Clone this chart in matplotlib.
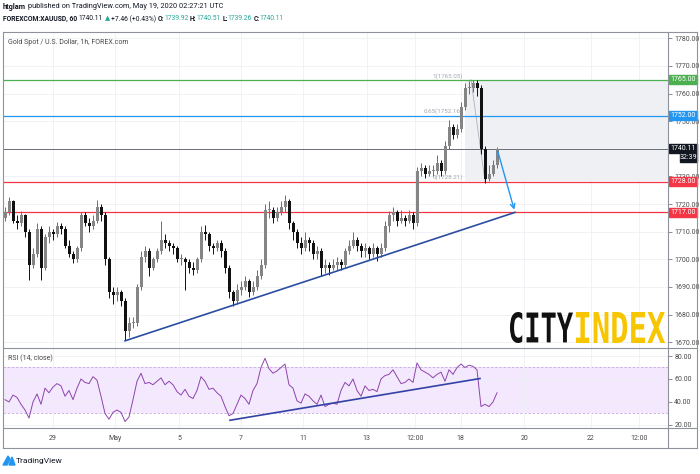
#IMPORT MODULES
import numpy
import matplotlib
matplotlib.use("Agg")
import matplotlib.pyplot as plt
from matplotlib import font_manager
from matplotlib.font_manager import FontProperties
from matplotlib.textpath import TextPath
from matplotlib.patches import PathPatch, Polygon, Rectangle
from matplotlib.transforms import Affine2D, IdentityTransform, blended_transform_factory
from matplotlib.lines import Line2D


#VARIABLES
    #hourly gold candles (one candle here ~ 3 hours there)
closes = [1717, 1721, 1714, 1713, 1716, 1710, 1698, 1702, 1711, 1697,
          1708, 1710, 1709, 1712, 1711, 1705, 1702, 1700, 1704, 1716,
          1713, 1712, 1714, 1719, 1716, 1700, 1688, 1687, 1688, 1685,
          1674, 1677, 1677, 1690, 1701, 1703, 1697, 1700, 1703, 1707,
          1706, 1705, 1704, 1700, 1700, 1699, 1697, 1696, 1700, 1710,
          1709, 1705, 1704, 1706, 1703, 1697, 1688, 1685, 1689, 1690,
          1692, 1688, 1690, 1694, 1698, 1718, 1718, 1715, 1717, 1719,
          1721, 1713, 1710, 1706, 1704, 1707, 1706, 1702, 1703, 1697,
          1698, 1697, 1698, 1699, 1698, 1703, 1705, 1707, 1705, 1703,
          1704, 1702, 1704, 1702, 1704, 1712, 1716, 1717, 1714, 1715,
          1714, 1716, 1713, 1732, 1733, 1731, 1732, 1732, 1735, 1732,
          1741, 1748, 1745, 1747, 1755, 1762, 1762, 1764, 1762, 1740,
          1729, 1731, 1734, 1740.11]
highs = [1719, 1722.5, 1721.5, 1716, 1717.5, 1716.5, 1711, 1704, 1713, 1712,
         1709, 1712, 1711, 1713.5, 1713, 1712, 1707, 1703, 1705, 1717,
         1717, 1715, 1716, 1721.5, 1720, 1717, 1701, 1690, 1690, 1689,
         1686, 1679, 1679, 1691, 1703, 1705, 1704, 1701, 1704, 1714,
         1709, 1707, 1706, 1705, 1702, 1701, 1700, 1699, 1701, 1712,
         1712.4, 1710, 1706, 1707, 1707, 1704, 1698, 1689, 1691, 1692,
         1694, 1693, 1692, 1696, 1700, 1720, 1721, 1719, 1719, 1721,
         1723.3, 1722, 1714, 1711, 1708, 1710, 1708, 1707, 1705, 1704,
         1700, 1699, 1700, 1701, 1700, 1704, 1707, 1710, 1708, 1706,
         1706, 1705, 1706, 1705, 1706, 1714, 1717.5, 1719, 1718, 1718,
         1716, 1718, 1717, 1733.5, 1735, 1734, 1734, 1734, 1737.8, 1736,
         1743, 1750.4, 1749, 1749, 1757, 1764, 1764.5, 1765.05, 1765, 1763,
         1741, 1734, 1736, 1740.6]
lows = [1714, 1716, 1713, 1711, 1712, 1708, 1692.5, 1697, 1701, 1692.5,
        1696, 1706, 1707, 1708, 1709, 1704, 1701, 1698.5, 1699, 1703,
        1712, 1710, 1711, 1713, 1714, 1698, 1686, 1684, 1685, 1683,
        1670.8, 1672, 1675, 1676, 1689, 1699, 1694, 1696, 1699, 1702,
        1704, 1703, 1702, 1699, 1698, 1689, 1695, 1694.5, 1695, 1699,
        1707, 1703, 1702, 1703, 1701, 1695, 1686, 1683, 1684, 1687,
        1689, 1686.5, 1687, 1689, 1693, 1697, 1715, 1713, 1714, 1716,
        1717, 1711, 1707, 1704, 1702, 1703, 1703, 1700, 1700, 1694,
        1695, 1694.5, 1696, 1696, 1696, 1697, 1702, 1704, 1703, 1701,
        1701, 1700, 1701, 1699.5, 1701, 1703, 1710, 1714, 1712, 1713,
        1712, 1713, 1711, 1712, 1730, 1729.5, 1730, 1730, 1731, 1730,
        1731, 1740, 1743.5, 1744, 1746, 1754, 1760, 1760.5, 1759, 1738,
        1727.7, 1728.5, 1730, 1733]
first_open = 1715

rsi = [42, 40, 46, 44, 38, 33, 26, 40, 47, 38,
       52, 48, 53, 56, 54, 45, 50, 42, 52, 60,
       57, 56, 62, 59, 45, 30, 25, 31, 33, 31,
       23, 27, 42, 58, 65, 56, 57, 55, 58, 61,
       55, 58, 55, 49, 46, 51, 45, 43, 50, 62,
       58, 51, 52, 48, 45, 36, 28, 30, 38, 46,
       43, 38, 50, 56, 70, 78, 69, 65, 67, 70,
       73, 55, 52, 41, 39, 47, 45, 41, 38, 46,
       36, 38, 39, 38, 50, 57, 54, 60, 50, 45,
       54, 50, 51, 49, 60, 63, 64, 68, 62, 56,
       57, 60, 57, 74, 68, 66, 64, 61, 64, 66,
       58, 68, 64, 70, 73, 70, 72, 71, 68, 36,
       38, 36, 40, 48]

    #time axis
tick_pos = [11.9, 27.5, 43.5, 58.9, 74.6, 90.4, 102.5, 113.9, 129.8, 146.4, 158.6]
tick_labels = ["29", "May", "5", "7", "11", "13", "12:00", "18", "20", "22", "12:00"]

    #price axis (1740.00 sits under the last price badge, so it is not shown)
price_ticks = [1670, 1680, 1690, 1700, 1710, 1720, 1730, 1750, 1760, 1770, 1780]

    #levels drawn on the chart
levels = [1765, 1752, 1728, 1717]
level_labels = ["1765.00", "1752.00", "1728.00", "1717.00"]
level_colors = ["#4caf50", "#2196f3", "#f23645", "#f23645"]
last_price = 1740.11
countdown = "32:39"

fib_high = 1765.05
fib_low = 1728.21
fib_labels = ["1(1765.05)", "0.65(1752.16)", "0(1728.21)"]
fib_values = [1765.05, 1752.16, 1728.21]

trend_x = [30, 127.5]
trend_y = [1670.5, 1717]
arrow_start = (123, 1740.11)
arrow_end = (127.5, 1717)
rsi_trend_x = [56.25, 118.75]
rsi_trend_y = [24.1, 60.4]

header1 = "published on TradingView.com, May 19, 2020 02:27:21 UTC"
header2 = [("FOREXCOM:XAUUSD, 60", "#131722", True), ("1740.11", "#131722", False),
           ("\u25b2", "#26a69a", False), ("+7.46 (+0.43%)", "#131722", False),
           ("O:", "#131722", True), ("1739.92", "#26a69a", False),
           ("H:", "#131722", True), ("1740.51", "#26a69a", False),
           ("L:", "#131722", True), ("1739.26", "#26a69a", False),
           ("C:", "#131722", True), ("1740.11", "#26a69a", False)]


#FONT (narrow like the TradingView one if it is there)
names = set(f.name for f in font_manager.fontManager.ttflist)
narrow = "Liberation Sans Narrow" if "Liberation Sans Narrow" in names else "Roboto"
plt.rcParams["font.family"] = [narrow, "DejaVu Sans"]

W, H = 700, 474
def fx(px):
    return px / W
def fy(py):
    return 1 - py / H

fig = plt.figure(figsize=(7, 4.74), dpi=100)
fig.patch.set_facecolor("white")

top, mid, low, bot = 31.7, 348.3, 428.3, 448.3
left, right, edge = 3, 668, 697

ax = fig.add_axes([fx(left), fy(mid), (right - left) / W, (mid - top) / H])
ax2 = fig.add_axes([fx(left), fy(low), (right - left) / W, (low - mid) / H])
xmin, xmax = -0.5, -0.5 + (right - left) / 4.0


#CANDLES
x = numpy.arange(len(closes))
c = numpy.array(closes, dtype=float)
o = numpy.concatenate([[first_open], c[:-1]])
hi = numpy.array(highs)
lo = numpy.array(lows)
up = c >= o
body_lo = numpy.minimum(o, c)
body_h = numpy.maximum(numpy.abs(c - o), 0.4)

ax.vlines(x[up], lo[up], hi[up], color="#6e6e6e", lw=0.7, zorder=3)
ax.vlines(x[~up], lo[~up], hi[~up], color="#111111", lw=0.7, zorder=3)
ax.bar(x[up], body_h[up], bottom=body_lo[up], width=0.75, color="#858585", zorder=4)
ax.bar(x[~up], body_h[~up], bottom=body_lo[~up], width=0.75, color="#111111", zorder=4)

    #fib box and its labels
ax.fill_between([115, xmax], fib_low, fib_high, color="#eef0f4", zorder=1, lw=0)
for lab, val in zip(fib_labels, fib_values):
    ax.text(114.5, val + 0.4, lab, ha="right", va="bottom", fontsize=4.5, color="#a3a6af", zorder=2)
ax.plot([116.5, 120], [fib_high, fib_low], color="#a3a6af", lw=0.5, zorder=2)

    #horizontal levels
for lv, col in zip(levels, level_colors):
    ax.axhline(lv, color=col, lw=0.9, zorder=2)
ax.axhline(last_price, color="#6a6d78", lw=0.7, zorder=2)

    #trend line and arrow
ax.plot(trend_x, trend_y, color="#2b4ea2", lw=1.2, zorder=5)
ax.annotate("", xy=arrow_end, xytext=arrow_start,
            arrowprops=dict(arrowstyle="->", color="#2196f3", lw=1.0, mutation_scale=8), zorder=5)

ax.set_xlim(xmin, xmax)
ax.set_ylim(1667.8, 1782.4)
ax.set_xticks(tick_pos)
ax.set_xticklabels([])
ax.set_yticks(price_ticks)
ax.set_yticklabels(["%.2f" % v for v in price_ticks])
ax.yaxis.tick_right()
ax.tick_params(axis="x", length=0)
ax.tick_params(axis="y", length=3, width=0.6, color="#787b86", labelsize=5, labelcolor="#4a4a4a", pad=1.5)
ax.grid(True, color="#eef0f4", lw=0.6, zorder=0)
for s in ax.spines.values():
    s.set_visible(False)

    #price badges on the right axis
bt = blended_transform_factory(fig.transFigure, ax.transData)
bh = 9 / ((mid - top) / (1782.4 - 1667.8))
for lv, lab, col in zip(levels, level_labels, level_colors):
    ax.add_patch(Rectangle((fx(669), lv - bh / 2), 28 / W, bh, transform=bt, color=col, clip_on=False, zorder=6))
    ax.text(fx(683), lv, lab, transform=bt, ha="center", va="center", fontsize=5, color="white", zorder=7, clip_on=False)
ax.add_patch(Rectangle((fx(669), last_price - bh / 2), 28 / W, bh, transform=bt, color="#131722", clip_on=False, zorder=6))
ax.text(fx(683), last_price, "%.2f" % last_price, transform=bt, ha="center", va="center", fontsize=5, color="white", zorder=7, clip_on=False)
ax.add_patch(Rectangle((fx(680), 1737.0 - bh / 2), 17 / W, bh, transform=bt, color="#131722", clip_on=False, zorder=6))
ax.text(fx(688.5), 1737.0, countdown, transform=bt, ha="center", va="center", fontsize=5, color="white", zorder=7, clip_on=False)


#RSI
ax2.axhspan(30, 70, color="#f3e8fd", zorder=0, lw=0)
ax2.axhline(70, color="#c7a8e0", lw=0.6, ls=(0, (3, 2)), zorder=1)
ax2.axhline(30, color="#c7a8e0", lw=0.6, ls=(0, (3, 2)), zorder=1)
ax2.plot(x, rsi, color="#8e44ad", lw=0.7, zorder=3)
ax2.plot(rsi_trend_x, rsi_trend_y, color="#3343a5", lw=1.2, zorder=4)
ax2.set_xlim(xmin, xmax)
ax2.set_ylim(17.1, 86.7)
ax2.set_yticks([20, 40, 60, 80])
ax2.set_yticklabels(["20.00", "40.00", "60.00", "80.00"])
ax2.yaxis.tick_right()
ax2.set_xticks(tick_pos)
ax2.set_xticklabels(tick_labels)
ax2.tick_params(axis="x", length=0, labelsize=5, labelcolor="#4a4a4a", pad=4.5)
ax2.tick_params(axis="y", length=3, width=0.6, color="#787b86", labelsize=5, labelcolor="#4a4a4a", pad=1.5)
ax2.grid(True, color="#eef0f4", lw=0.6, zorder=0)
for s in ax2.spines.values():
    s.set_visible(False)


#FRAME
frame = "#8f929b"
for (x0, y0, x1, y1) in [(left, top, edge, top), (left, bot, edge, bot), (left, mid, edge, mid),
                         (left, low, edge, low), (left, top, left, bot), (edge, top, edge, bot),
                         (right, top, right, bot)]:
    fig.add_artist(Line2D([fx(x0), fx(x1)], [fy(y0), fy(y1)], color=frame, lw=0.8))


#TEXTS
fig.text(fx(8), fy(42), "Gold Spot / U.S. Dollar, 1h, FOREX.com", fontsize=5, color="#4a4a4a", va="center")
fig.text(fx(8), fy(358), "RSI (14, close)", fontsize=5, color="#4a4a4a", va="center")

r = fig.canvas.get_renderer()
t = fig.text(3, H - 7, "htglam", fontsize=5.3, fontweight="bold", color="#131722", va="center", transform=IdentityTransform())
xx = 3 + t.get_window_extent(renderer=r).width + 2
fig.text(xx, H - 7, header1, fontsize=5.3, color="#131722", va="center", transform=IdentityTransform())
xx = 3
for txt, col, bold in header2:
    t = fig.text(xx, H - 19, txt, fontsize=4.9, fontweight="bold" if bold else "normal", color=col,
                 va="center", transform=IdentityTransform())
    xx += t.get_window_extent(renderer=r).width + (0 if txt.endswith(":") else 1.5)

    #TradingView mark
fig.add_artist(Polygon([[fx(3), fy(465)], [fx(8), fy(456)], [fx(10), fy(459)], [fx(7), fy(465)]], closed=True, color="#2196f3"))
fig.add_artist(Polygon([[fx(9), fy(465)], [fx(12), fy(457)], [fx(15), fy(465)]], closed=True, color="#2196f3"))
fig.text(fx(16), fy(461), "TradingView", fontsize=6, color="#131722", va="center")

    #CITY INDEX logo
def logo_word(word, color, x0, x1, ytop, ybot):
    tp = TextPath((0, 0), word, size=40, prop=FontProperties(family="DejaVu Sans Mono", weight="bold"))
    ext = tp.get_extents()
    tr = Affine2D().translate(-ext.x0, -ext.y0).scale((x1 - x0) / ext.width, (ybot - ytop) / ext.height).translate(x0, H - ybot)
    fig.add_artist(PathPatch(tr.transform_path(tp), color=color, lw=0, transform=IdentityTransform()))

logo_word("CITY", "#111111", 510, 573, 312, 343)
logo_word("INDEX", "#f7c600", 576, 665, 312, 343)

fig.savefig("out.png", dpi=100, facecolor="white")
